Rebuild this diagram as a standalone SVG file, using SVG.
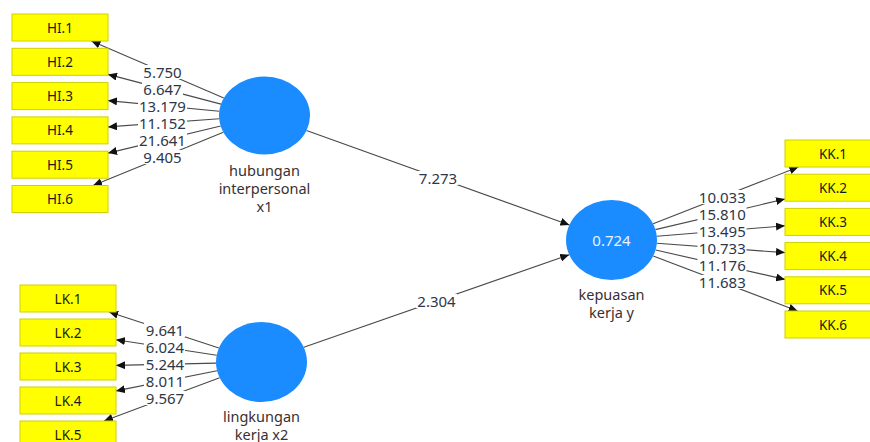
<svg xmlns="http://www.w3.org/2000/svg" width="870" height="442" viewBox="0 0 870 442">
<style>
.box{fill:#ffff00;stroke:#d0d000;stroke-width:1}
.bt{font-family:"Noto Sans","Liberation Sans",Arial,sans-serif;font-size:13.5px;fill:#1a1a1a;text-anchor:middle;dominant-baseline:central}
.lv{fill:#1a8cff}
.lt{font-family:"Noto Sans","Liberation Sans",Arial,sans-serif;font-size:14.5px;fill:#3a3030;text-anchor:middle}
.ln{stroke:#4a4a4a;stroke-width:1.1;fill:none;marker-end:url(#ah)}
.bg{fill:#ffffff}
.wt{font-family:"Noto Sans","Liberation Sans",Arial,sans-serif;font-size:15px;fill:#2e3648;text-anchor:middle;dominant-baseline:central}
</style>
<defs>
<marker id="ah" markerUnits="userSpaceOnUse" markerWidth="10" markerHeight="8" refX="9" refY="4" orient="auto">
<path d="M0,0 L9,4 L0,8 z" fill="#111"/>
</marker>
</defs>
<rect width="870" height="442" fill="#ffffff"/>
<g id="connectors">
<line class="ln" x1="223.8" y1="98.0" x2="91.4" y2="41.0"/>
<line class="ln" x1="221.0" y1="104.1" x2="108.0" y2="74.4"/>
<line class="ln" x1="219.3" y1="111.2" x2="108.0" y2="100.6"/>
<line class="ln" x1="219.2" y1="118.8" x2="108.0" y2="126.9"/>
<line class="ln" x1="220.7" y1="126.0" x2="108.0" y2="153.1"/>
<line class="ln" x1="223.4" y1="132.3" x2="93.1" y2="185.5"/>
<line class="ln" x1="218.9" y1="348.0" x2="109.1" y2="312.0"/>
<line class="ln" x1="216.7" y1="355.2" x2="116.0" y2="339.8"/>
<line class="ln" x1="216.0" y1="363.1" x2="116.0" y2="365.4"/>
<line class="ln" x1="217.1" y1="370.8" x2="116.0" y2="390.9"/>
<line class="ln" x1="219.6" y1="377.7" x2="104.0" y2="421.0"/>
<line class="ln" x1="653.1" y1="223.8" x2="798.4" y2="167.0"/>
<line class="ln" x1="655.4" y1="229.6" x2="785.0" y2="199.0"/>
<line class="ln" x1="656.8" y1="236.3" x2="785.0" y2="225.8"/>
<line class="ln" x1="656.8" y1="243.3" x2="785.0" y2="252.6"/>
<line class="ln" x1="655.6" y1="250.0" x2="785.0" y2="279.4"/>
<line class="ln" x1="653.2" y1="255.9" x2="797.6" y2="311.0"/>
<line class="ln" x1="306.5" y1="130.6" x2="569.4" y2="224.9"/>
<line class="ln" x1="303.8" y1="347.3" x2="569.2" y2="254.7"/>
<g id="weights">
<rect class="bg" x="142" y="65" width="41" height="14"/><text class="wt" x="162.5" y="71.5">5.750</text>
<rect class="bg" x="142" y="82" width="41" height="14"/><text class="wt" x="162.5" y="88.7">6.647</text>
<rect class="bg" x="138" y="99" width="49" height="14"/><text class="wt" x="162.5" y="105.8">13.179</text>
<rect class="bg" x="138" y="116" width="49" height="14"/><text class="wt" x="162.5" y="123">11.152</text>
<rect class="bg" x="138" y="133" width="49" height="14"/><text class="wt" x="162.5" y="140.1">21.641</text>
<rect class="bg" x="142" y="150" width="41" height="14"/><text class="wt" x="162.5" y="157.3">9.405</text>
<rect class="bg" x="144" y="323" width="41" height="14"/><text class="wt" x="165" y="330.3">9.641</text>
<rect class="bg" x="144" y="340" width="41" height="14"/><text class="wt" x="165" y="347.3">6.024</text>
<rect class="bg" x="144" y="357" width="41" height="14"/><text class="wt" x="165" y="364.3">5.244</text>
<rect class="bg" x="144" y="374" width="41" height="14"/><text class="wt" x="165" y="381.3">8.011</text>
<rect class="bg" x="144" y="391" width="41" height="14"/><text class="wt" x="165" y="398.3">9.567</text>
<rect class="bg" x="697.5" y="190" width="49" height="14"/><text class="wt" x="722.3" y="196.8">10.033</text>
<rect class="bg" x="697.5" y="207" width="49" height="14"/><text class="wt" x="722.3" y="213.9">15.810</text>
<rect class="bg" x="697.5" y="224" width="49" height="14"/><text class="wt" x="722.3" y="231">13.495</text>
<rect class="bg" x="697.5" y="241" width="49" height="14"/><text class="wt" x="722.3" y="248">10.733</text>
<rect class="bg" x="697.5" y="258" width="49" height="14"/><text class="wt" x="722.3" y="265.2">11.176</text>
<rect class="bg" x="697.5" y="275" width="49" height="14"/><text class="wt" x="722.3" y="282.3">11.683</text>
<rect class="bg" x="417.5" y="171" width="41" height="14"/><text class="wt" x="438" y="178">7.273</text>
<rect class="bg" x="416" y="294" width="41" height="14"/><text class="wt" x="436.5" y="301">2.304</text>
</g>
</g>
<g id="HI1"><rect class="box" x="12" y="14" width="96" height="27"/><text class="bt" x="60" y="27.5">HI.1</text></g>
<g id="HI2"><rect class="box" x="12" y="48.3" width="96" height="27"/><text class="bt" x="60" y="61.8">HI.2</text></g>
<g id="HI3"><rect class="box" x="12" y="82.6" width="96" height="27"/><text class="bt" x="60" y="96.1">HI.3</text></g>
<g id="HI4"><rect class="box" x="12" y="116.9" width="96" height="27"/><text class="bt" x="60" y="130.4">HI.4</text></g>
<g id="HI5"><rect class="box" x="12" y="151.2" width="96" height="27"/><text class="bt" x="60" y="164.7">HI.5</text></g>
<g id="HI6"><rect class="box" x="12" y="185.5" width="96" height="27"/><text class="bt" x="60" y="199">HI.6</text></g>
<g id="LK1"><rect class="box" x="20" y="285" width="96" height="27"/><text class="bt" x="68" y="298.5">LK.1</text></g>
<g id="LK2"><rect class="box" x="20" y="319" width="96" height="27"/><text class="bt" x="68" y="332.5">LK.2</text></g>
<g id="LK3"><rect class="box" x="20" y="353" width="96" height="27"/><text class="bt" x="68" y="366.5">LK.3</text></g>
<g id="LK4"><rect class="box" x="20" y="387" width="96" height="27"/><text class="bt" x="68" y="400.5">LK.4</text></g>
<g id="LK5"><rect class="box" x="20" y="421" width="96" height="27"/><text class="bt" x="68" y="434.5">LK.5</text></g>
<g id="KK1"><rect class="box" x="785" y="140" width="96" height="27"/><text class="bt" x="833" y="153.5">KK.1</text></g>
<g id="KK2"><rect class="box" x="785" y="174.2" width="96" height="27"/><text class="bt" x="833" y="187.7">KK.2</text></g>
<g id="KK3"><rect class="box" x="785" y="208.4" width="96" height="27"/><text class="bt" x="833" y="221.9">KK.3</text></g>
<g id="KK4"><rect class="box" x="785" y="242.6" width="96" height="27"/><text class="bt" x="833" y="256.1">KK.4</text></g>
<g id="KK5"><rect class="box" x="785" y="276.8" width="96" height="27"/><text class="bt" x="833" y="290.3">KK.5</text></g>
<g id="KK6"><rect class="box" x="785" y="311" width="96" height="27"/><text class="bt" x="833" y="324.5">KK.6</text></g>
<g id="x1"><ellipse class="lv" cx="264.5" cy="115.5" rx="45.5" ry="39"/><text class="lt" x="264.5" y="176">hubungan</text><text class="lt" x="264.5" y="194">interpersonal</text><text class="lt" x="264.5" y="212">x1</text></g>
<g id="x2"><ellipse class="lv" cx="261.5" cy="362" rx="45.5" ry="40"/><text class="lt" x="261.5" y="422">lingkungan</text><text class="lt" x="261.5" y="440">kerja x2</text></g>
<g id="y"><ellipse class="lv" cx="611.5" cy="240" rx="45.5" ry="40"/><text class="wt" x="611.5" y="240" style="fill:#e8f2ff">0.724</text><text class="lt" x="611.5" y="300">kepuasan</text><text class="lt" x="611.5" y="318">kerja y</text></g>
</svg>
